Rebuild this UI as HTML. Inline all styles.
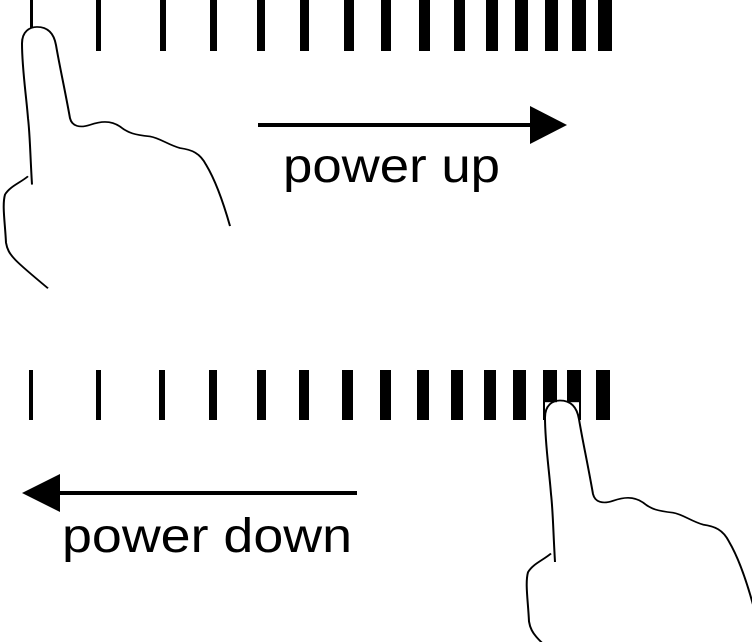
<!DOCTYPE html>
<html><head><style>
html,body{margin:0;padding:0;background:#fff;overflow:hidden;width:752px;height:642px}
svg{display:block}
text{font-family:"Liberation Sans",sans-serif;fill:#000}
</style></head><body>
<svg width="752" height="642" viewBox="0 0 752 642">
<defs>
<g id="hand" fill="none" stroke="#000" stroke-width="2">
<path d="M32,220 C30,180 30,160 28,140 C26,110 22,80 22,50 C22,35 30,30 37,30 C48,30 54,38 56,52 C60,80 64,100 70,140 C72,150 80,152 90,148 C100,144 110,142 120,150 C128,158 135,160 150,162 C160,164 168,172 180,176 C192,178 200,182 206,196 C214,212 222,236 230,270"/>
<path d="M28,210 C20,218 10,222 5,232 C2,245 5,265 6,290 C8,305 15,312 48,345"/>
</g>
</defs>
<g fill="#000">
<rect x="30" y="0" width="3" height="28"/>
<rect x="96" y="0" width="5" height="51"/>
<rect x="160" y="0" width="6" height="51"/>
<rect x="210" y="0" width="7" height="51"/>
<rect x="257" y="0" width="8" height="51"/>
<rect x="300" y="0" width="9" height="51"/>
<rect x="344" y="0" width="10" height="51"/>
<rect x="381" y="0" width="10" height="51"/>
<rect x="419" y="0" width="11" height="51"/>
<rect x="454" y="0" width="11" height="51"/>
<rect x="486" y="0" width="12" height="51"/>
<rect x="515" y="0" width="13" height="51"/>
<rect x="545" y="0" width="13" height="51"/>
<rect x="572" y="0" width="14" height="51"/>
<rect x="598" y="0" width="14" height="51"/>
</g>
<g transform="translate(0,2) scale(1,0.83)"><use href="#hand"/></g>
<line x1="258" y1="125" x2="535" y2="125" stroke="#000" stroke-width="4"/>
<polygon points="530,106 567,125 530,144" fill="#000"/>
<text x="283" y="182" font-size="48" textLength="217" lengthAdjust="spacingAndGlyphs">power up</text>
<g fill="#000">
<rect x="29" y="370" width="4" height="50"/>
<rect x="96" y="370" width="5" height="50"/>
<rect x="159" y="370" width="6" height="50"/>
<rect x="209" y="370" width="8" height="50"/>
<rect x="257" y="370" width="9" height="50"/>
<rect x="299" y="370" width="10" height="50"/>
<rect x="342" y="370" width="11" height="50"/>
<rect x="380" y="370" width="11" height="50"/>
<rect x="417" y="370" width="12" height="50"/>
<rect x="451" y="370" width="12" height="50"/>
<rect x="484" y="370" width="12" height="50"/>
<rect x="513" y="370" width="13" height="50"/>
<rect x="543" y="370" width="14" height="50"/>
<rect x="567" y="370" width="14" height="50"/>
<rect x="596" y="370" width="14" height="50"/>
</g>
<g transform="translate(523,375) scale(1,0.85)">
<rect x="22" y="32" width="34" height="28" fill="#fff"/>
<use href="#hand"/></g>
<line x1="55" y1="493" x2="357" y2="493" stroke="#000" stroke-width="4"/>
<polygon points="60,474 22,493 60,512" fill="#000"/>
<text x="62" y="552" font-size="48" textLength="290" lengthAdjust="spacingAndGlyphs">power down</text>
</svg>
</body></html>
